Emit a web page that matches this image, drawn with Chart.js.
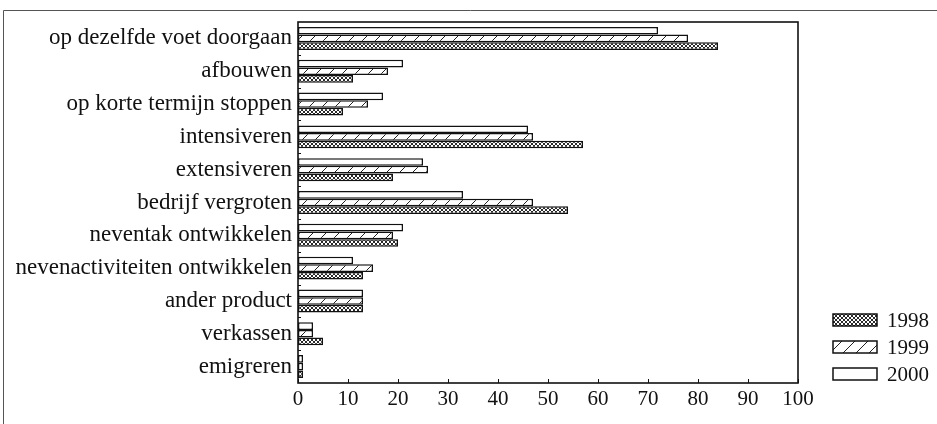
<!DOCTYPE html>
<html>
<head>
<meta charset="utf-8">
<script src="https://cdn.jsdelivr.net/npm/chart.js@4.4.1/dist/chart.umd.min.js"></script>
<style>
    html, body { margin: 0; padding: 0; background: #fff; }
    #wrap { position: relative; width: 937px; height: 424px; }
</style>
</head>
<body>
<div id="wrap"><canvas id="chart"></canvas></div>
<script>
// Data
const categories = [
    'op dezelfde voet doorgaan',
    'afbouwen',
    'op korte termijn stoppen',
    'intensiveren',
    'extensiveren',
    'bedrijf vergroten',
    'neventak ontwikkelen',
    'nevenactiviteiten ontwikkelen',
    'ander product',
    'verkassen',
    'emigreren'
];
const values2000 = [72, 21, 17, 46, 25, 33, 21, 11, 13, 3, 1];
const values1999 = [78, 18, 14, 47, 26, 47, 19, 15, 13, 3, 1];
const values1998 = [84, 11, 9, 57, 19, 54, 20, 13, 13, 5, 1];
const xTicks = [0, 10, 20, 30, 40, 50, 60, 70, 80, 90, 100];

const FONT = "'Liberation Serif', 'DejaVu Serif', serif";

// Patterns
const makePattern = (size, draw) => {
    const c = document.createElement('canvas');
    c.width = size;
    c.height = size;
    const g = c.getContext('2d');
    g.fillStyle = '#fff';
    g.fillRect(0, 0, size, size);
    draw(g, size);
    return g.createPattern(c, 'repeat');
};

// crisp pixel cross-hatch, leaves little white diamonds
const crossHatch = makePattern(4, (g, s) => {
    g.fillStyle = '#2a2a2a';
    for (let i = 0; i < s; i++) {
        g.fillRect(i, i, 1, 1);
        g.fillRect(s - 1 - i, i, 1, 1);
    }
});

const slashHatch = makePattern(13, (g, s) => {
    g.strokeStyle = '#222';
    g.lineWidth = 1;
    g.beginPath();
    g.moveTo(-1, s + 1); g.lineTo(s + 1, -1);
    g.stroke();
});

// Frame, plot box, ticks and legend
const decorPlugin = {
    id: 'decor',
    afterDraw(chart) {
        const ctx = chart.ctx;
        const area = chart.chartArea;
        const xs = chart.scales.x;
        const ys = chart.scales.y;
        ctx.save();

        // outer frame (top and left)
        ctx.strokeStyle = '#555';
        ctx.lineWidth = 1;
        ctx.beginPath();
        ctx.moveTo(3.5, chart.height);
        ctx.lineTo(3.5, 10.5);
        ctx.lineTo(chart.width, 10.5);
        ctx.stroke();

        // plot box
        ctx.strokeStyle = '#111';
        ctx.lineWidth = 1.6;
        ctx.strokeRect(area.left, area.top, area.right - area.left, area.bottom - area.top);

        // x ticks pointing inward
        ctx.lineWidth = 1;
        ctx.beginPath();
        xTicks.forEach(v => {
            const px = Math.round(xs.getPixelForValue(v)) + 0.5;
            ctx.moveTo(px, area.bottom);
            ctx.lineTo(px, area.bottom - 4);
        });
        // y ticks at category boundaries
        for (let i = 1; i < categories.length; i++) {
            const py = Math.round((ys.getPixelForValue(i - 1) + ys.getPixelForValue(i)) / 2) + 0.5;
            ctx.moveTo(area.left, py);
            ctx.lineTo(area.left + 3, py);
        }
        ctx.stroke();

        // legend
        const items = chart.data.datasets.slice().reverse();
        const bx = area.right + 35;
        items.forEach((ds, i) => {
            const by = 314 + i * 27;
            ctx.fillStyle = ds.backgroundColor;
            ctx.fillRect(bx, by, 44, 12);
            ctx.strokeStyle = '#111';
            ctx.lineWidth = 1.5;
            ctx.strokeRect(bx, by, 44, 12);
            ctx.fillStyle = '#111';
            ctx.font = `21px ${FONT}`;
            ctx.textBaseline = 'middle';
            ctx.textAlign = 'left';
            ctx.fillText(ds.label, bx + 54, by + 7);
        });

        ctx.restore();
    }
};

const ctx = document.getElementById('chart').getContext('2d');
new Chart(ctx, {
    type: 'bar',
    data: {
        labels: categories,
        datasets: [
            { label: '2000', data: values2000, backgroundColor: '#ffffff' },
            { label: '1999', data: values1999, backgroundColor: slashHatch },
            { label: '1998', data: values1998, backgroundColor: crossHatch }
        ].map(d => Object.assign(d, {
            borderColor: '#111',
            borderWidth: 1.5,
            borderSkipped: false,
            categoryPercentage: 0.7,
            barPercentage: 1.0
        }))
    },
    options: {
        indexAxis: 'y',
        responsive: true,
        maintainAspectRatio: false,
        animation: false,
        devicePixelRatio: 1,
        layout: { padding: { left: 3, top: 22, right: 139, bottom: 0 } },
        plugins: {
            legend: { display: false },
            tooltip: { enabled: false }
        },
        scales: {
            x: {
                min: 0,
                max: 100,
                afterBuildTicks: (s) => { s.ticks = xTicks.map(v => ({ value: v })); },
                afterFit: (s) => { s.height = 41; },
                grid: { display: false, drawTicks: false },
                border: { display: false },
                ticks: {
                    color: '#111',
                    padding: 4,
                    maxRotation: 0,
                    font: { family: FONT, size: 21 }
                }
            },
            y: {
                afterFit: (s) => { s.width = 295; },
                grid: { display: false, drawTicks: false },
                border: { display: false },
                ticks: {
                    color: '#111',
                    padding: 6,
                    autoSkip: false,
                    font: { family: FONT, size: 23 }
                }
            }
        }
    },
    plugins: [decorPlugin]
});
</script>
</body>
</html>
